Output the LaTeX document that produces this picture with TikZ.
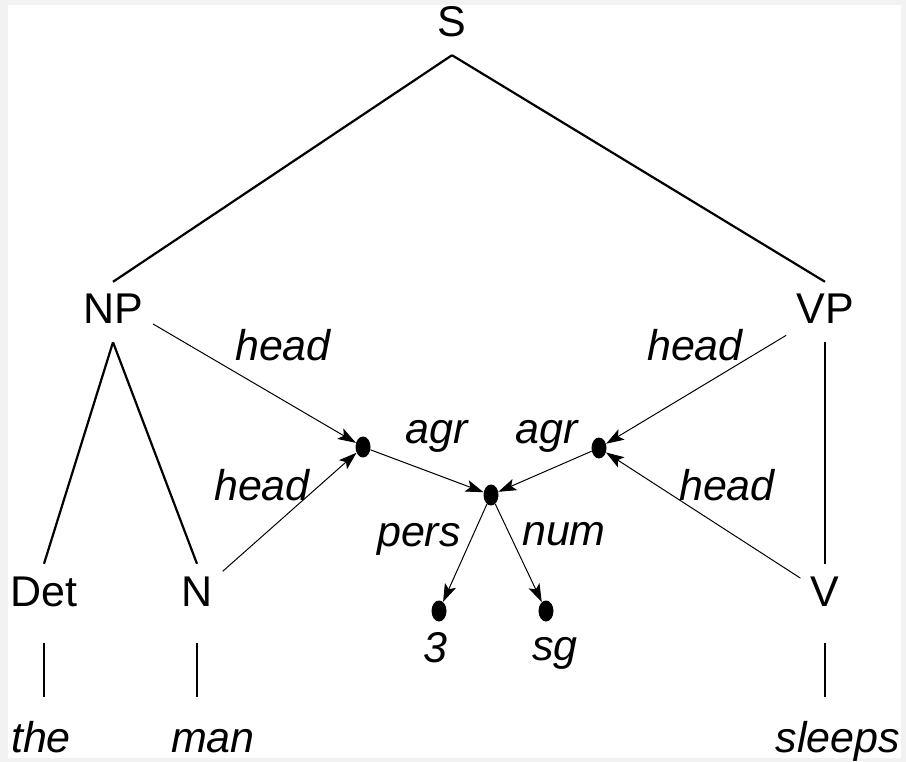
\documentclass[tikz,border=0pt]{standalone}
\usepackage{fontspec}
\setmainfont{Liberation Sans}
\usetikzlibrary{arrows.meta,shapes.geometric}
\definecolor{framegray}{HTML}{F2F2F2}

\begin{document}
\begin{tikzpicture}[x=1pt,y=-1pt,
    cat/.style={font=\fontsize{43}{50}\selectfont,inner sep=10pt,
      text height=32pt,text depth=8pt,anchor=base},
    word/.style={cat,font=\fontsize{43}{50}\selectfont\itshape},
    feat/.style={font=\fontsize{43}{50}\selectfont\itshape,inner sep=0pt,anchor=base},
    dot/.style={ellipse,fill=black,minimum width=15pt,minimum height=21pt,inner sep=0pt},
    branch/.style={line width=2.2pt},
    bar/.style={line width=2.2pt,shorten <=19pt,shorten >=13pt},
    path/.style={line width=1pt,-{Stealth[length=18pt,width=12pt,inset=4pt]}}]
    \fill[framegray] (0,0) rectangle (906,762);
    \fill[white] (8,5) rectangle (901,758);
    \useasboundingbox (0,0) rectangle (906,762);

    \node[cat] (S) at (452,37) {S};
    \node[cat] (NP) at (113,324) {NP};
    \node[cat] (VP) at (825,324) {VP};
    \node[cat] (Det) at (44,606) {Det};
    \node[cat] (N) at (197,606) {N};
    \node[cat] (V) at (825,606) {V};
    \node[word] (the) at (41,752) {the};
    \node[word] (man) at (213,752) {man};
    \node[word] (sleeps) at (838,752) {sleeps};

    \draw[branch] (S.south) -- (NP.north);
    \draw[branch] (S.south) -- (VP.north);
    \draw[branch] (NP.south) -- (Det.north);
    \draw[branch] (NP.south) -- (N.north);
    \draw[branch] (VP.south) -- (V.north);
    \draw[bar] (Det.south) -- (Det.south |- the.north);
    \draw[bar] (N.south) -- (N.south |- man.north);
    \draw[bar] (V.south) -- (V.south |- sleeps.north);

    \node[dot] (agrl) at (363,447) {};
    \node[dot] (agrr) at (599,448) {};
    \node[dot] (agr) at (491,495) {};
    \node[dot] (pers) at (439,611) {};
    \node[dot] (num) at (546,611) {};

    \draw[path] (NP.base east) -- (agrl);
    \draw[path] (N) -- (agrl);
    \draw[path] (VP) -- (agrr);
    \draw[path] (V) -- (agrr);
    \draw[path] (agrl) -- (agr);
    \draw[path] (agrr) -- (agr);
    \draw[path] (agr) -- (pers);
    \draw[path] (agr) -- (num);

    \node[feat] (headnp) at (283,361) {head};
    \node[feat] (headvp) at (695,361) {head};
    \node[feat] (headn) at (262,500) {head};
    \node[feat] (headv) at (727,500) {head};
    \node[feat] (agrlabl) at (437,443) {agr};
    \node[feat] (agrlabr) at (547,443) {agr};
    \node[feat] (perslab) at (419,546) {pers};
    \node[feat] (numlab) at (564,545) {num};
    \node[feat] (val3) at (435,662) {3};
    \node[feat] (valsg) at (555,660) {sg};
\end{tikzpicture}
\end{document}
